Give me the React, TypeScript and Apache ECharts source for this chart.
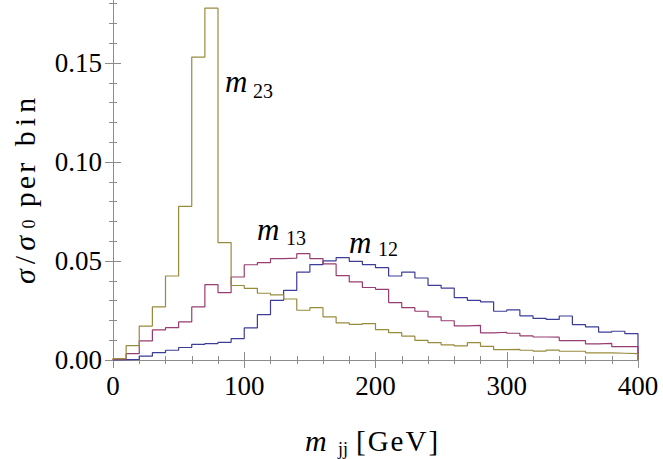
import React, { useEffect, useRef } from "react";
import * as echarts from "echarts";

const binWidth = 10;
const m12 = [0.0002, 0.0003, 0.0019, 0.0037, 0.0049, 0.0063, 0.0079, 0.0083, 0.0089, 0.0108,
  0.0162, 0.0229, 0.0301, 0.0352, 0.0444, 0.0482, 0.0500, 0.0517, 0.0498, 0.0482,
  0.0466, 0.0424, 0.0444, 0.0414, 0.0377, 0.0363, 0.0315, 0.0301, 0.0293, 0.0246,
  0.0253, 0.0223, 0.0210, 0.0205, 0.0222, 0.0179, 0.0167, 0.0141, 0.0145, 0.0133];
const m13 = [0.0004, 0.0032, 0.0096, 0.0152, 0.0163, 0.0192, 0.0268, 0.0381, 0.0340, 0.0419,
  0.0481, 0.0492, 0.0512, 0.0514, 0.0537, 0.0512, 0.0485, 0.0426, 0.0394, 0.0366,
  0.0357, 0.0290, 0.0264, 0.0246, 0.0218, 0.0198, 0.0172, 0.0175, 0.0137, 0.0140,
  0.0135, 0.0122, 0.0116, 0.0115, 0.0098, 0.0098, 0.0081, 0.0084, 0.0067, 0.0067];
const m23 = [0.0007, 0.0072, 0.0171, 0.0268, 0.0424, 0.0776, 0.1530, 0.1777, 0.0593, 0.0376,
  0.0362, 0.0337, 0.0329, 0.0308, 0.0251, 0.0264, 0.0218, 0.0187, 0.0180, 0.0184,
  0.0153, 0.0138, 0.0120, 0.0099, 0.0088, 0.0076, 0.0071, 0.0088, 0.0069, 0.0052,
  0.0054, 0.0049, 0.0045, 0.0050, 0.0044, 0.0044, 0.0036, 0.0036, 0.0034, 0.0032];

const yMajorTicks = [0, 0.05, 0.1, 0.15];
const yMinorTicks = [0.01, 0.02, 0.03, 0.04, 0.06, 0.07, 0.08, 0.09, 0.11, 0.12, 0.13, 0.14, 0.16, 0.17, 0.18];
const yMin = -0.00355;
const yMax = 0.1813;

const colors = { m12: "#3d3d99", m13: "#993d71", m23: "#998b3d" };
const FONT = "Liberation Serif";

function stepData(vals: number[]) {
  const pts: number[][] = [[0, 0]];
  vals.forEach((v, i) => {
    pts.push([i * binWidth, v]);
    pts.push([(i + 1) * binWidth, v]);
  });
  pts.push([vals.length * binWidth, 0]);
  return pts;
}

// spaced word as rich tokens: gap between letters, none after the last
function spaced(word: string) {
  const chars = Array.from(word);
  return chars.map((c, i) => `{${i < chars.length - 1 ? "a" : "b"}|${c}}`).join("");
}

export default function App() {
  const ref = useRef<HTMLDivElement>(null);
  useEffect(() => {
    if (!ref.current) return;
    const chart = echarts.init(ref.current, undefined, { renderer: "svg" });
    const frame = "#8c8c8c";
    const gridPos = { left: 113, right: 25, top: 1, bottom: 92, containLabel: false };
    const xBase = (gridIndex: number, position: string, labels: boolean, minor: boolean) => ({
      type: "value", gridIndex, position, min: 0, max: 400, interval: 100,
      axisLine: { show: true, lineStyle: { color: frame, width: 1 } },
      axisTick: { show: !minor, inside: true, length: 8, lineStyle: { color: frame } },
      minorTick: { show: minor, splitNumber: 5, length: 4, lineStyle: { color: frame } },
      axisLabel: { show: labels, fontFamily: FONT, fontSize: 27, color: "#000", margin: 5 },
      splitLine: { show: false }, minorSplitLine: { show: false },
    });
    const yBase = (gridIndex: number, position: string, labels: boolean, ticks: number[], len: number) => ({
      type: "value", gridIndex, position, min: yMin, max: yMax,
      axisLine: { show: true, lineStyle: { color: frame, width: 1 } },
      axisTick: { show: true, inside: true, length: len, customValues: ticks, lineStyle: { color: frame } },
      axisLabel: {
        show: labels, customValues: yMajorTicks, fontFamily: FONT, fontSize: 27, color: "#000", margin: 11,
        formatter: (v: number) => v.toFixed(2),
      },
      splitLine: { show: false },
    });
    const txt = (x: number, y: number, text: string, size: number, italic: boolean, extra: any = {}) => ({
      type: "text", x, y, ...extra,
      style: {
        text, fontFamily: FONT, fontSize: size, fontStyle: italic ? "italic" : "normal", fill: "#000",
        textAlign: "left", textVerticalAlign: "bottom", ...(extra.style || {}),
      },
    });
    const mLabel = (mx: number, my: number, sx: number, sy: number, sub: string) => [
      txt(mx, my, "m", 31, true),
      txt(sx, sy, sub, 20, false),
    ];
    const rot = Math.PI / 2;
    const yTitle = (y: number, xOff: number, style: any) => ({
      type: "text", x: 24.5 + xOff, y, rotation: rot,
      style: { fill: "#000", textAlign: "center", textVerticalAlign: "middle", ...style },
    });
    chart.setOption({
      animation: false,
      grid: [gridPos, gridPos],
      xAxis: [
        xBase(0, "bottom", true, false), xBase(0, "top", false, false),
        xBase(1, "bottom", false, true), xBase(1, "top", false, true),
      ],
      yAxis: [
        yBase(0, "left", true, yMajorTicks, 8), yBase(0, "right", false, yMajorTicks, 8),
        yBase(1, "left", false, yMinorTicks, 4), yBase(1, "right", false, yMinorTicks, 4),
      ],
      series: [
        { name: "m12", data: stepData(m12), color: colors.m12 },
        { name: "m13", data: stepData(m13), color: colors.m13 },
        { name: "m23", data: stepData(m23), color: colors.m23 },
      ].map((s) => ({
        ...s, type: "line", xAxisIndex: 0, yAxisIndex: 0, showSymbol: false, symbol: "none",
        lineStyle: { width: 1.2, color: s.color }, z: 3,
      })),
      graphic: [
        ...mLabel(225, 97, 253, 100.5, "23"),
        ...mLabel(257, 244.5, 286, 247.5, "13"),
        ...mLabel(349, 257.5, 378, 258.5, "12"),
        // x-axis title
        txt(305, 455, "m", 30, true),
        txt(338, 458, "jj", 18, false),
        {
          type: "text", x: 356, y: 455,
          style: {
            text: spaced("[GeV]"), textAlign: "left", textVerticalAlign: "bottom",
            rich: {
              a: { fontFamily: FONT, fontSize: 29, fill: "#000", padding: [0, 2, 0, 0] },
              b: { fontFamily: FONT, fontSize: 29, fill: "#000" },
            },
          },
        },
        // y-axis title (reads bottom to top)
        yTitle(260, 0, {
          text: "{i|σ}{t|/}{j|σ}",
          rich: {
            i: { fontFamily: FONT, fontStyle: "italic", fontSize: 30, fill: "#000", padding: [0, 5, 0, 0] },
            t: { fontFamily: FONT, fontSize: 30, fill: "#000", padding: [0, 5, 0, 0] },
            j: { fontFamily: FONT, fontStyle: "italic", fontSize: 30, fill: "#000" },
          },
        }),
        yTitle(224, 4, { text: "0", fontFamily: FONT, fontSize: 18 }),
        yTitle(185, 0, {
          text: spaced("per"),
          rich: {
            a: { fontFamily: FONT, fontSize: 30, fill: "#000", padding: [0, 3, 0, 0] },
            b: { fontFamily: FONT, fontSize: 30, fill: "#000" },
          },
        }),
        yTitle(122, 0, {
          text: spaced("bin"),
          rich: {
            a: { fontFamily: FONT, fontSize: 30, fill: "#000", padding: [0, 5, 0, 0] },
            b: { fontFamily: FONT, fontSize: 30, fill: "#000" },
          },
        }),
      ],
    });
    return () => chart.dispose();
  }, []);
  return <div ref={ref} style={{ width: 663, height: 459, position: "absolute", left: 0, top: 0 }} />;
}
